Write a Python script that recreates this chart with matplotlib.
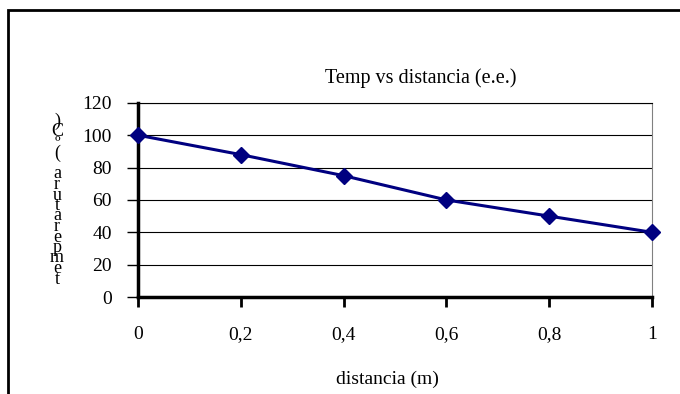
import matplotlib
matplotlib.use('Agg')
from matplotlib import pyplot as plt
from matplotlib.patches import Rectangle

# data
distancia = [0, 0.2, 0.4, 0.6, 0.8, 1]
temperatura = [100, 88, 75, 60, 50, 40]
x_ticks = [0, 0.2, 0.4, 0.6, 0.8, 1]
x_labels = ['0', '0,2', '0,4', '0,6', '0,8', '1']
y_ticks = [0, 20, 40, 60, 80, 100, 120]

plt.rcParams['font.family'] = ['Liberation Serif', 'DejaVu Serif']

fig = plt.figure(figsize=(6.8, 3.94), dpi=100)
ax = fig.add_axes([0.203, 0.246, 0.756, 0.493])

# outer frame of the chart
fig.patches.append(Rectangle((8 / 680, -0.1), 1.1, 1 - 10 / 394 + 0.1,
                             transform=fig.transFigure, fill=False,
                             edgecolor='black', linewidth=2))

ax.plot(distancia, temperatura, color='#000080', linewidth=2.2,
        marker='D', markersize=8, zorder=3, clip_on=False)

ax.set_xlim(0, 1)
ax.set_ylim(0, 120)
ax.set_xticks(x_ticks)
ax.set_xticklabels(x_labels)
ax.set_yticks(y_ticks)
ax.yaxis.grid(True, color='black', linewidth=0.8)
ax.set_axisbelow(True)

ax.spines['left'].set_linewidth(2.5)
ax.spines['bottom'].set_linewidth(2.5)
ax.spines['top'].set_linewidth(0.8)
ax.spines['right'].set_linewidth(0.8)
ax.spines['right'].set_color('#808080')

ax.tick_params(axis='y', length=8, width=1, pad=11, labelsize=14)
ax.tick_params(axis='x', length=7, width=2, pad=14, labelsize=14)

ax.set_title('Temp vs distancia (e.e.)', fontsize=14.5, x=0.55, pad=14)
ax.set_xlabel('distancia (m)', fontsize=14)
ax.xaxis.set_label_coords(0.486, -0.38)

# y label drawn as stacked upright letters, bottom to top
label = 'temperatura (ºC)'
fig.text(57 / 680, 1 - 200 / 394, '\n'.join(reversed(label)),
         ha='center', va='center', fontsize=13, linespacing=0.5)

fig.savefig('out.png', dpi=100)
